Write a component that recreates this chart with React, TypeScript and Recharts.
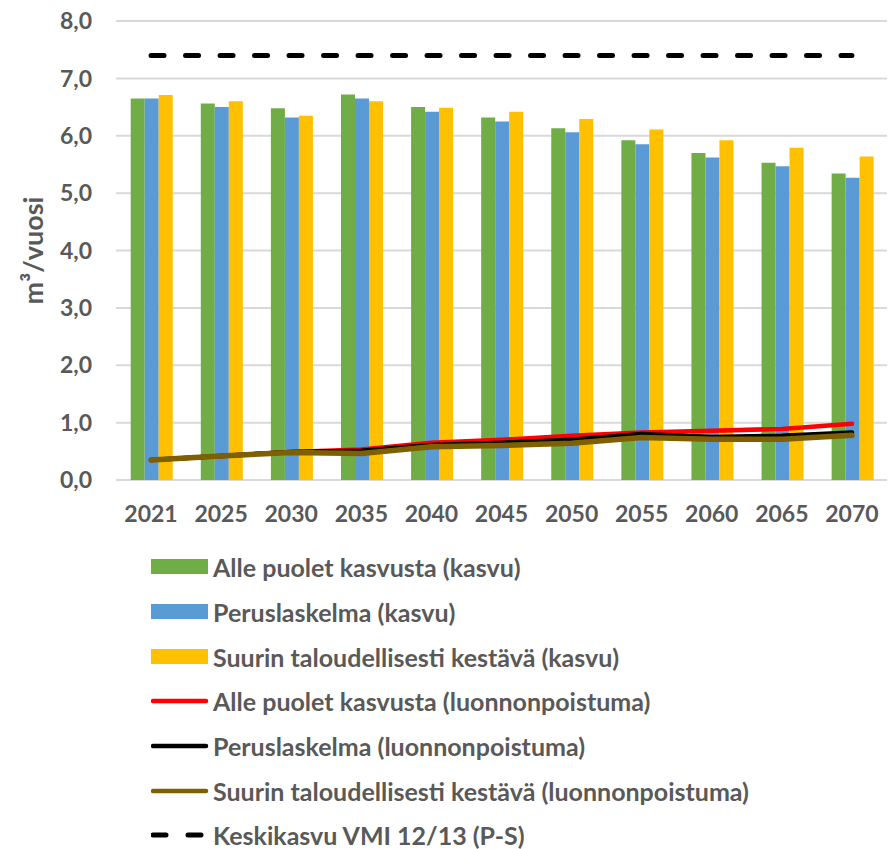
import React from 'react';
import { ComposedChart, Bar, Line, XAxis, YAxis, CartesianGrid, Label } from 'recharts';

// vuodet
const years = ['2021', '2025', '2030', '2035', '2040', '2045', '2050', '2055', '2060', '2065', '2070'];

// kasvu, m3/vuosi
const alleKasvu = [6.65, 6.56, 6.48, 6.72, 6.5, 6.32, 6.13, 5.92, 5.7, 5.53, 5.34];
const perusKasvu = [6.65, 6.5, 6.32, 6.65, 6.42, 6.25, 6.06, 5.85, 5.62, 5.47, 5.27];
const suurinKasvu = [6.71, 6.6, 6.35, 6.6, 6.49, 6.42, 6.29, 6.11, 5.92, 5.79, 5.64];

// luonnonpoistuma, m3/vuosi
const allePoistuma = [0.35, 0.42, 0.49, 0.53, 0.65, 0.7, 0.77, 0.83, 0.86, 0.89, 0.98];
const perusPoistuma = [0.35, 0.42, 0.49, 0.51, 0.61, 0.65, 0.7, 0.8, 0.75, 0.77, 0.83];
const suurinPoistuma = [0.35, 0.42, 0.48, 0.46, 0.58, 0.6, 0.64, 0.74, 0.71, 0.71, 0.78];

// VMI 12/13 keskikasvu
const keskikasvu = 7.4;

const yTicks = [0, 1, 2, 3, 4, 5, 6, 7, 8];

const data = years.map((year, i) => ({
  year,
  alleKasvu: alleKasvu[i],
  perusKasvu: perusKasvu[i],
  suurinKasvu: suurinKasvu[i],
  allePoistuma: allePoistuma[i],
  perusPoistuma: perusPoistuma[i],
  suurinPoistuma: suurinPoistuma[i],
  keskikasvu,
}));

const FONT = 'Lato, "Open Sans", sans-serif';
const GREY = '#595959';

const legendItems = [
  { label: 'Alle puolet kasvusta (kasvu)', color: '#70ad47', kind: 'bar' },
  { label: 'Peruslaskelma (kasvu)', color: '#5b9bd5', kind: 'bar' },
  { label: 'Suurin taloudellisesti kestävä (kasvu)', color: '#ffc000', kind: 'bar' },
  { label: 'Alle puolet kasvusta (luonnonpoistuma)', color: '#ff0000', kind: 'line' },
  { label: 'Peruslaskelma (luonnonpoistuma)', color: '#000000', kind: 'line' },
  { label: 'Suurin taloudellisesti kestävä (luonnonpoistuma)', color: '#7f6000', kind: 'line' },
  { label: 'Keskikasvu VMI 12/13 (P-S)', color: '#000000', kind: 'dash' },
];

function LegendIcon({ kind, color }) {
  return (
    <svg width={62} height={20} style={{ display: 'block' }}>
      {kind === 'bar' && <rect x={0} y={2} width={57} height={15} fill={color} />}
      {kind === 'line' && (
        <line x1={2} y1={10} x2={55} y2={10} stroke={color} strokeWidth={4.5} strokeLinecap="round" />
      )}
      {kind === 'dash' && (
        <line x1={2} y1={10} x2={55} y2={10} stroke={color} strokeWidth={5} strokeLinecap="round" strokeDasharray="13 22" />
      )}
    </svg>
  );
}

export default function App() {
  const fmt = (v) => v.toFixed(1).replace('.', ',');

  return (
    <div style={{ position: 'absolute', left: 0, top: 0, width: 894, height: 849, background: '#fff' }}>
      <ComposedChart
        width={894}
        height={540}
        data={data}
        margin={{ top: 21, right: 7, bottom: 0, left: 0 }}
        barCategoryGap="21%"
        barGap={0}
      >
        <CartesianGrid vertical={false} stroke="#d9d9d9" strokeWidth={2} />
        <XAxis
          dataKey="year"
          height={60}
          axisLine={false}
          tickLine={false}
          tickMargin={20}
          tick={{ fill: GREY, fontSize: 23, fontWeight: 700, fontFamily: FONT }}
        />
        <YAxis
          width={116}
          domain={[0, 8]}
          ticks={yTicks}
          axisLine={false}
          tickLine={false}
          tickMargin={18}
          tickFormatter={fmt}
          tick={{ fill: GREY, fontSize: 23, fontWeight: 700, fontFamily: FONT }}
        >
          <Label
            content={({ viewBox }) => {
              const cy = viewBox.y + viewBox.height / 2;
              return (
                <text
                  x={32}
                  y={cy}
                  transform={`rotate(-90 32 ${cy})`}
                  textAnchor="middle"
                  dominantBaseline="central"
                  fill={GREY}
                  fontSize={27}
                  fontWeight={700}
                  fontFamily={FONT}
                >
                  m³/vuosi
                </text>
              );
            }}
          />
        </YAxis>
        <Bar dataKey="alleKasvu" fill="#70ad47" isAnimationActive={false} />
        <Bar dataKey="perusKasvu" fill="#5b9bd5" isAnimationActive={false} />
        <Bar dataKey="suurinKasvu" fill="#ffc000" isAnimationActive={false} />
        <Line dataKey="allePoistuma" stroke="#ff0000" strokeWidth={4.5} dot={false} strokeLinecap="round" strokeLinejoin="round" isAnimationActive={false} />
        <Line dataKey="perusPoistuma" stroke="#000000" strokeWidth={4.5} dot={false} strokeLinecap="round" strokeLinejoin="round" isAnimationActive={false} />
        <Line dataKey="suurinPoistuma" stroke="#7f6000" strokeWidth={5.5} dot={false} strokeLinecap="round" strokeLinejoin="round" isAnimationActive={false} />
        <Line dataKey="keskikasvu" stroke="#000000" strokeWidth={5} strokeDasharray="13 21.5" dot={false} strokeLinecap="round" isAnimationActive={false} />
      </ComposedChart>

      <div style={{ position: 'absolute', left: 151, top: 545 }}>
        {legendItems.map((item) => (
          <div key={item.label} style={{ display: 'flex', alignItems: 'center', height: 44.7 }}>
            <LegendIcon kind={item.kind} color={item.color} />
            <span style={{ color: GREY, fontSize: 25, fontWeight: 700, fontFamily: FONT, whiteSpace: 'nowrap' }}>
              {item.label}
            </span>
          </div>
        ))}
      </div>
    </div>
  );
}
